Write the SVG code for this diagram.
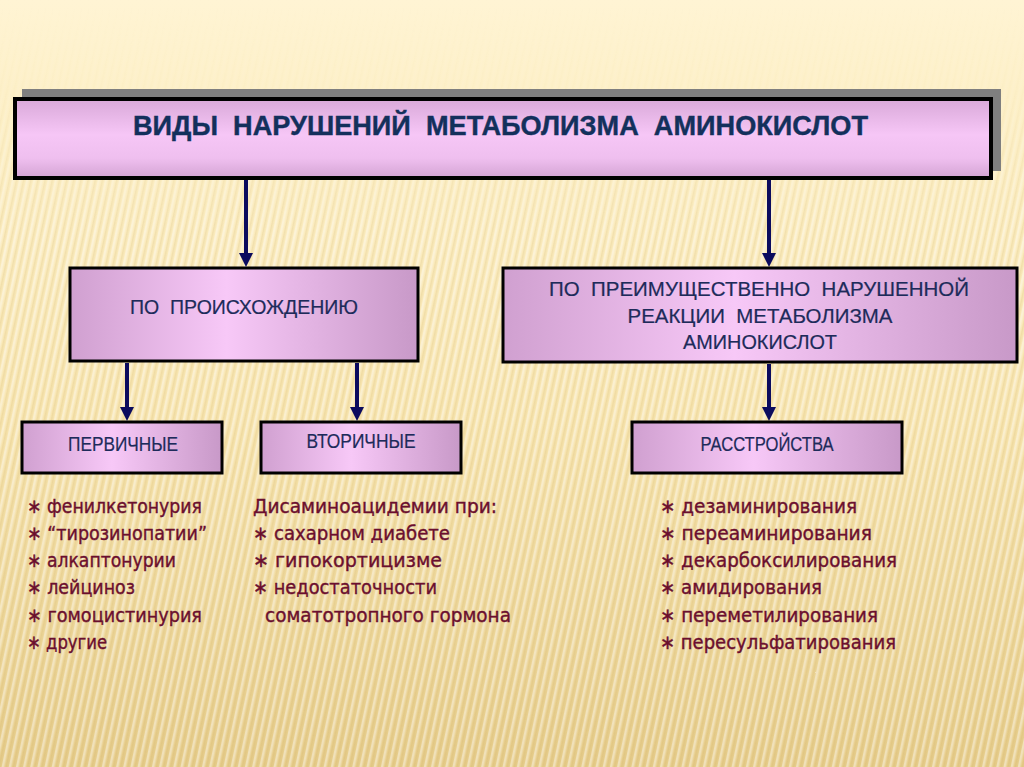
<svg xmlns="http://www.w3.org/2000/svg" width="1024" height="767" viewBox="0 0 1024 767" xml:space="preserve">
  <defs>
    <linearGradient id="bg" x1="0" y1="0" x2="0" y2="1">
      <stop offset="0" stop-color="#fff4d4"/>
      <stop offset="0.12" stop-color="#fdf0c8"/>
      <stop offset="0.55" stop-color="#f7e4ae"/>
      <stop offset="1" stop-color="#e6cc8a"/>
    </linearGradient>
    <linearGradient id="stripeFade" x1="0" y1="0" x2="0" y2="1">
      <stop offset="0" stop-color="#fff" stop-opacity="0"/>
      <stop offset="0.12" stop-color="#fff" stop-opacity="0.15"/>
      <stop offset="0.3" stop-color="#fff" stop-opacity="1"/>
      <stop offset="1" stop-color="#fff" stop-opacity="1"/>
    </linearGradient>
    <pattern id="stripes" width="7" height="40" patternUnits="userSpaceOnUse" patternTransform="rotate(12)">
      <rect x="0" y="0" width="2.5" height="40" fill="#ffffff" fill-opacity="0.4"/>
      <rect x="4" y="0" width="1.5" height="40" fill="#c9a860" fill-opacity="0.16"/>
    </pattern>
    <mask id="fadeMask">
      <rect x="0" y="0" width="1024" height="767" fill="url(#stripeFade)"/>
    </mask>
    <linearGradient id="titleFill" x1="0" y1="0" x2="0" y2="1">
      <stop offset="0" stop-color="#d9a9d9"/>
      <stop offset="0.45" stop-color="#f6c6f6"/>
      <stop offset="0.75" stop-color="#efbfef"/>
      <stop offset="1" stop-color="#d4a4d4"/>
    </linearGradient>
    <linearGradient id="boxFill" x1="0" y1="0" x2="1" y2="0">
      <stop offset="0" stop-color="#d0a0d0"/>
      <stop offset="0.45" stop-color="#f7c8f7"/>
      <stop offset="1" stop-color="#c899c8"/>
    </linearGradient>
    <marker id="arrow" markerUnits="userSpaceOnUse" markerWidth="14" markerHeight="14" refX="2" refY="7" orient="auto">
      <path d="M0,0 L14,7 L0,14 z" fill="#0b0b5e"/>
    </marker>
    <style>
      .box { fill: url(#boxFill); stroke: #000; stroke-width: 3; }
      .btxt { font-family: "Liberation Sans", Arial, sans-serif; font-size: 20px; fill: #1d2b5a; stroke: #1d2b5a; stroke-width: 0.2; text-anchor: middle; white-space: pre; }
      .ttl { font-family: "Liberation Sans", Arial, sans-serif; font-size: 27px; font-weight: bold; fill: #13305c; stroke: #13305c; stroke-width: 0.4; white-space: pre; }
      .lst { font-family: "DejaVu Sans", "Noto Sans", sans-serif; font-size: 19.5px; fill: #6b0f2e; stroke: #6b0f2e; stroke-width: 0.4; white-space: pre; }
      .conn { stroke: #0b0b5e; stroke-width: 4; fill: none; marker-end: url(#arrow); }
    </style>
  </defs>

  <!-- background -->
  <rect x="0" y="0" width="1024" height="767" fill="url(#bg)"/>
  <rect x="0" y="0" width="1024" height="767" fill="url(#stripes)" mask="url(#fadeMask)"/>

  <!-- title node -->
  <g id="title">
    <rect x="22" y="89" width="979" height="82" fill="#7f7f7f"/>
    <rect x="15" y="99" width="976" height="79" fill="url(#titleFill)" stroke="#000" stroke-width="4"/>
    <text class="ttl" x="133" y="135" textLength="735" lengthAdjust="spacingAndGlyphs">ВИДЫ  НАРУШЕНИЙ  МЕТАБОЛИЗМА  АМИНОКИСЛОТ</text>
  </g>

  <!-- connectors -->
  <g id="connectors">
    <line class="conn" x1="246" y1="180" x2="246" y2="255"/>
    <line class="conn" x1="769" y1="180" x2="769" y2="255"/>
    <line class="conn" x1="127" y1="363" x2="127" y2="409"/>
    <line class="conn" x1="357" y1="363" x2="357" y2="409"/>
    <line class="conn" x1="769" y1="364" x2="769" y2="409"/>
  </g>

  <g id="origin">
    <rect class="box" x="70" y="268" width="348" height="93"/>
    <text class="btxt" x="244" y="314" textLength="228" lengthAdjust="spacingAndGlyphs">ПО  ПРОИСХОЖДЕНИЮ</text>
  </g>

  <g id="reaction">
    <rect class="box" x="503" y="268" width="514" height="94"/>
    <text class="btxt" x="759" y="296" textLength="420" lengthAdjust="spacingAndGlyphs">ПО  ПРЕИМУЩЕСТВЕННО  НАРУШЕННОЙ</text>
    <text class="btxt" x="760" y="323" textLength="265" lengthAdjust="spacingAndGlyphs">РЕАКЦИИ  МЕТАБОЛИЗМА</text>
    <text class="btxt" x="760" y="349" textLength="154" lengthAdjust="spacingAndGlyphs">АМИНОКИСЛОТ</text>
  </g>

  <g id="primary">
    <rect class="box" x="22" y="422" width="200" height="51"/>
    <text class="btxt" x="123" y="451" textLength="110" lengthAdjust="spacingAndGlyphs">ПЕРВИЧНЫЕ</text>
  </g>

  <g id="secondary">
    <rect class="box" x="261" y="422" width="200" height="51"/>
    <text class="btxt" x="361" y="448" textLength="109" lengthAdjust="spacingAndGlyphs">ВТОРИЧНЫЕ</text>
  </g>

  <g id="disorders">
    <rect class="box" x="632" y="422" width="270" height="51"/>
    <text class="btxt" x="767" y="451" textLength="133" lengthAdjust="spacingAndGlyphs">РАССТРОЙСТВА</text>
  </g>

  <g id="list-primary">
    <text class="lst" x="27" y="513" textLength="175" lengthAdjust="spacingAndGlyphs">∗ фенилкетонурия</text>
    <text class="lst" x="27" y="540" textLength="180" lengthAdjust="spacingAndGlyphs">∗ “тирозинопатии”</text>
    <text class="lst" x="27" y="567" textLength="149" lengthAdjust="spacingAndGlyphs">∗ алкаптонурии</text>
    <text class="lst" x="27" y="594" textLength="108" lengthAdjust="spacingAndGlyphs">∗ лейциноз</text>
    <text class="lst" x="27" y="622" textLength="175" lengthAdjust="spacingAndGlyphs">∗ гомоцистинурия</text>
    <text class="lst" x="27" y="649" textLength="80" lengthAdjust="spacingAndGlyphs">∗ другие</text>
  </g>

  <g id="list-secondary">
    <text class="lst" x="253" y="513" textLength="244" lengthAdjust="spacingAndGlyphs">Дисаминоацидемии при:</text>
    <text class="lst" x="253" y="540" textLength="197" lengthAdjust="spacingAndGlyphs">∗ сахарном диабете</text>
    <text class="lst" x="253" y="567" textLength="189" lengthAdjust="spacingAndGlyphs">∗ гипокортицизме</text>
    <text class="lst" x="253" y="594" textLength="184" lengthAdjust="spacingAndGlyphs">∗ недостаточности</text>
    <text class="lst" x="265" y="622" textLength="246" lengthAdjust="spacingAndGlyphs">соматотропного гормона</text>
  </g>

  <g id="list-disorders">
    <text class="lst" x="660" y="513" textLength="197" lengthAdjust="spacingAndGlyphs">∗ дезаминирования</text>
    <text class="lst" x="660" y="540" textLength="212" lengthAdjust="spacingAndGlyphs">∗ переаминирования</text>
    <text class="lst" x="660" y="567" textLength="237" lengthAdjust="spacingAndGlyphs">∗ декарбоксилирования</text>
    <text class="lst" x="660" y="594" textLength="162" lengthAdjust="spacingAndGlyphs">∗ амидирования</text>
    <text class="lst" x="660" y="622" textLength="218" lengthAdjust="spacingAndGlyphs">∗ переметилирования</text>
    <text class="lst" x="660" y="649" textLength="236" lengthAdjust="spacingAndGlyphs">∗ пересульфатирования</text>
  </g>
</svg>
